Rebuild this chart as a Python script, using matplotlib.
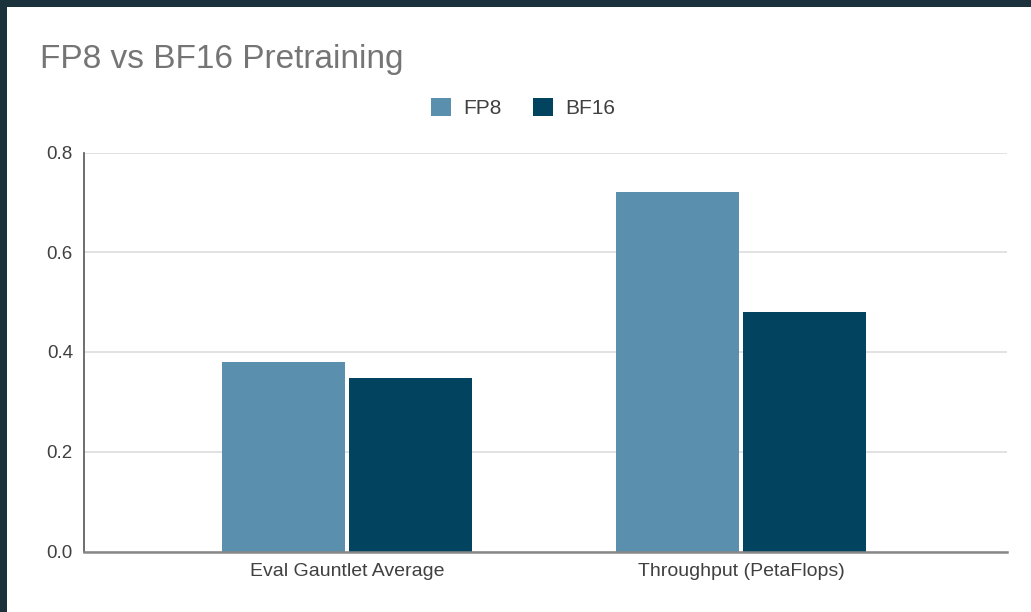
import matplotlib
matplotlib.use("Agg")
import matplotlib.pyplot as plt
from matplotlib.patches import Rectangle, Patch
import numpy as np

categories = ["Eval Gauntlet Average", "Throughput (PetaFlops)"]
series_names = ["FP8", "BF16"]
fp8_values = [0.38, 0.72]
bf16_values = [0.348, 0.48]
yticks = [0.0, 0.2, 0.4, 0.6, 0.8]
ytick_labels = ["0.0", "0.2", "0.4", "0.6", "0.8"]

plt.rcParams['font.family'] = ['Liberation Sans', 'DejaVu Sans']

W, H = 1031, 612
fig = plt.figure(figsize=(W / 100, H / 100), dpi=100)
fig.patch.set_facecolor('#1b313b')
# white panel
panel = Rectangle((7 / W, 0), 1 - 7 / W, 1 - 7 / H, transform=fig.transFigure,
                  facecolor='white', edgecolor='none', zorder=-10)
fig.patches.append(panel)

ax = fig.add_axes([84 / W, 1 - 551.5 / H, (1007 - 84) / W, (551.5 - 152.5) / H])
ax.set_facecolor('none')
ax.set_zorder(2)

x = np.arange(len(categories))
bw = 0.312
off = 0.162
c_fp8 = '#5a8fae'
c_bf16 = '#02445f'
ax.bar(x - off, fp8_values, width=bw, color=c_fp8, zorder=3)
ax.bar(x + off, bf16_values, width=bw, color=c_bf16, zorder=3)

ax.set_xlim(-0.6675, 1.675)
ax.set_ylim(0, 0.8)
ax.set_yticks(yticks)
ax.set_yticklabels(ytick_labels)
ax.set_xticks(x)
ax.set_xticklabels(categories)
ax.tick_params(axis='both', length=0, labelcolor='#404040')
ax.tick_params(axis='y', pad=8, labelsize=13.5)
ax.tick_params(axis='x', pad=8, labelsize=14)

ax.grid(axis='y', color='#dddddd', linewidth=1.2, zorder=0)
ax.set_axisbelow(True)
for s in ['top', 'right']:
    ax.spines[s].set_visible(False)
ax.spines['left'].set_color('#555555')
ax.spines['left'].set_linewidth(1.2)
ax.spines['bottom'].set_color('#888888')
ax.spines['bottom'].set_linewidth(1.8)
ax.spines['left'].set_zorder(4)
ax.spines['bottom'].set_zorder(4)

fig.text(40 / W, 1 - 68 / H, "FP8 vs BF16 Pretraining", fontsize=24, color='#757575',
         ha='left', va='baseline')

handles = [Patch(facecolor=c_fp8, edgecolor='none'), Patch(facecolor=c_bf16, edgecolor='none')]
fig.legend(handles, series_names, loc='center', bbox_to_anchor=(523 / W, 1 - 108 / H),
           ncol=2, frameon=False, fontsize=15, labelcolor='#404040',
           handlelength=0.95, handleheight=0.95, handletextpad=0.6, columnspacing=1.5)

fig.savefig('out.png', dpi=100, facecolor=fig.get_facecolor())
